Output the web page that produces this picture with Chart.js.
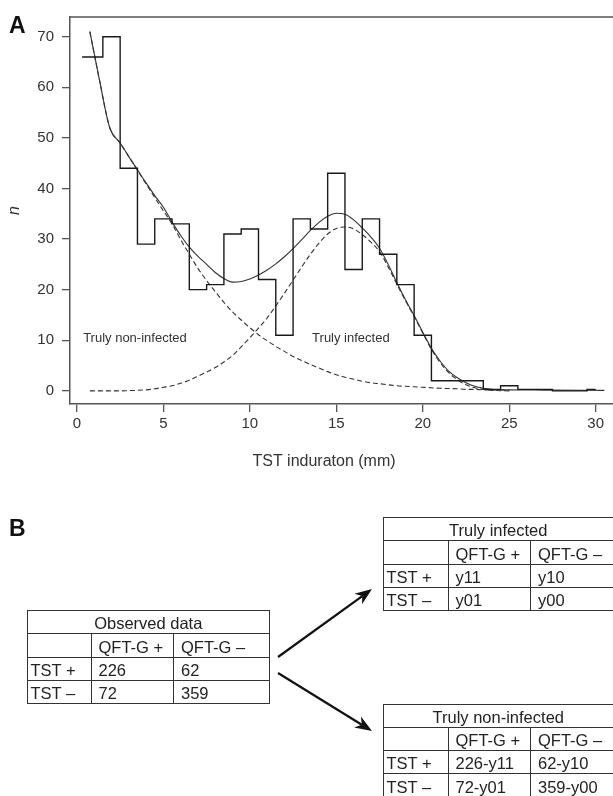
<!DOCTYPE html>
<html>
<head>
<meta charset="utf-8">
<script src="https://cdn.jsdelivr.net/npm/chart.js@4"></script>
<style>
  body { margin: 0; background: #fff; font-family: "Liberation Sans", Arial, sans-serif; color: #222; }
  #page { position: relative; width: 613px; height: 796px; overflow: hidden; }
  #plot { position: absolute; left: 0; top: 0; }
  .tag { position: absolute; font-weight: bold; font-size: 23px; line-height: 23px; color: #111; }
  table.tt { position: absolute; border-collapse: collapse; table-layout: fixed; font-size: 16.5px; }
  table.tt td { border: 1px solid #333; padding: 0 0 0 7px; white-space: nowrap; overflow: hidden;
                vertical-align: bottom; line-height: 19px; }
  table.tt tr { height: 23.3px; }
  table.tt td.head { text-align: center; padding-left: 0; }
  table.tt td.first { padding-left: 3px; }
  #arrows { position: absolute; left: 0; top: 0; }
</style>
</head>
<body>
<div id="page">
  <canvas id="plot" width="613" height="480"></canvas>
  <div class="tag" style="left:9px; top:14px;">A</div>
  <div class="tag" style="left:9px; top:517px;">B</div>
  <svg id="arrows" width="613" height="796"></svg>
</div>
<script>
// panel A data
const xTicks = [0, 5, 10, 15, 20, 25, 30];
const yTicks = [0, 10, 20, 30, 40, 50, 60, 70];

// histogram: left bin edges (last value = right end) and counts
const histEdges = [0.3, 1.5, 2.5, 3.5, 4.5, 5.5, 6.5, 7.5, 8.5, 9.5, 10.5, 11.5, 12.5, 13.5, 14.5,
                   15.5, 16.5, 17.5, 18.5, 19.5, 20.5, 23.5, 24.5, 25.5, 27.5, 29.5, 30];
const histCounts = [66, 70, 44, 29, 34, 33, 20, 21, 31, 32, 22, 11, 34, 32, 43,
                    24, 34, 27, 21, 11, 2, 0.3, 1, 0.3, 0, 0.3];

// fitted mixture curves
const fitX = [0.75, 1.3, 1.9, 2.5, 3, 3.5, 4, 4.5, 5, 5.5, 6, 6.5, 7, 7.5, 8, 8.5, 9, 9.5, 10, 10.5,
              11, 11.5, 12, 12.5, 13, 13.5, 14, 14.5, 15, 15.5, 16, 16.5, 17, 17.5, 18, 18.5, 19, 19.5,
              20, 20.5, 21, 21.5, 22, 22.5, 23, 23.5, 24, 25, 27, 30.5];
const fitTotal = [71, 61.5, 52, 49, 46.3, 43.7, 41.1, 38.6, 36.3, 33.4, 30.7, 28.4, 26.6, 25.0, 23.4, 22.2, 21.5, 21.6, 22.1, 22.9,
                  23.9, 25.1, 26.5, 28.1, 29.9, 31.7, 33.3, 34.5, 35.1, 34.9, 33.8, 32.2, 30.4, 28.2, 25.0, 21.4, 18.0, 14.9,
                  11.6, 8.4, 5.9, 3.9, 2.6, 1.6, 0.9, 0.5, 0.3, 0.2, 0.15, 0.1];
const fitInfected = [0, 0, 0, 0, 0.05, 0.1, 0.2, 0.4, 0.7, 1.0, 1.5, 2.1, 2.9, 3.7, 4.6, 5.7, 7.0, 8.7, 10.5, 12.4,
                     14.4, 16.8, 19.3, 21.9, 24.5, 27.0, 29.2, 31.0, 32.1, 32.4, 32.0, 30.9, 29.4, 27.5, 24.5, 21.1, 17.8, 14.7,
                     11.4, 8.2, 5.6, 3.6, 2.2, 1.2, 0.6, 0.3, 0.1, 0, null, null];
const fitNonInfected = [71, 61.5, 52, 49, 46.3, 43.6, 40.9, 38.2, 35.6, 33.0, 29.9, 27.0, 24.2, 21.8, 19.6, 17.5, 15.6, 14.0, 12.5, 11.1,
                        9.9, 8.8, 7.8, 6.8, 6.0, 5.2, 4.5, 3.8, 3.2, 2.7, 2.3, 1.9, 1.6, 1.4, 1.2, 1.0, 0.9, 0.8,
                        0.7, 0.6, 0.5, 0.45, 0.4, 0.3, 0.3, 0.2, 0.2, 0.1, null, null];

const noteText = ['Truly non-infected', 'Truly infected'];
const noteX = [0.36, 13.6];
const noteY = [10.3, 10.3];
const xTitle = 'TST induraton (mm)';
const yTitle = 'n';

// panel B data
const rowNames = ['TST +', 'TST \u2013'];
const colNames = ['QFT-G +', 'QFT-G \u2013'];
const observed = [['226', '62'], ['72', '359']];
const infected = [['y11', 'y10'], ['y01', 'y00']];
const nonInfected = [['226-y11', '62-y10'], ['72-y01', '359-y00']];

const FONT = '"Liberation Sans", Arial, sans-serif';

function pts(xs, ys) {
    return xs.map((x, i) => ({ x: x, y: ys[i] }));
}

const histData = histEdges.map((x, i) => ({ x: x, y: histCounts[Math.min(i, histCounts.length - 1)] }));

const extras = {
    id: 'extras',
    afterDatasetsDraw(chart) {
        const { ctx, chartArea, scales } = chart;
        ctx.save();
        ctx.strokeStyle = '#555';
        ctx.lineWidth = 1.5;
        ctx.beginPath();
        ctx.moveTo(chartArea.left, chartArea.top);
        ctx.lineTo(chartArea.right, chartArea.top);
        ctx.stroke();

        ctx.fillStyle = '#333';
        ctx.font = '13px ' + FONT;
        ctx.textAlign = 'left';
        ctx.textBaseline = 'middle';
        noteText.forEach((t, i) => {
            ctx.fillText(t, scales.x.getPixelForValue(noteX[i]), scales.y.getPixelForValue(noteY[i]));
        });

        ctx.font = '16px ' + FONT;
        ctx.textAlign = 'center';
        ctx.fillText(xTitle, 324, chartArea.bottom + 58);
        ctx.restore();
    }
};

new Chart(document.getElementById('plot'), {
    type: 'line',
    data: {
        datasets: [
            { data: histData, stepped: 'before', borderColor: '#1a1a1a', borderWidth: 1.4 },
            { data: pts(fitX, fitTotal), borderColor: '#333', borderWidth: 1.1, cubicInterpolationMode: 'monotone' },
            { data: pts(fitX, fitInfected), borderColor: '#333', borderWidth: 1.1, borderDash: [5, 3], cubicInterpolationMode: 'monotone' },
            { data: pts(fitX, fitNonInfected), borderColor: '#333', borderWidth: 1.1, borderDash: [5, 3], cubicInterpolationMode: 'monotone' }
        ]
    },
    options: {
        responsive: false,
        animation: false,
        events: [],
        elements: { point: { radius: 0 } },
        layout: { padding: { top: 15, left: 0, right: 0, bottom: 0 } },
        plugins: { legend: { display: false }, tooltip: { enabled: false } },
        scales: {
            x: {
                type: 'linear',
                min: -0.4,
                max: 31,
                afterBuildTicks: s => { s.ticks = xTicks.map(v => ({ value: v })); },
                afterFit: s => { s.height = 76; },
                grid: { drawOnChartArea: false, drawTicks: true, tickLength: 8, color: '#555', lineWidth: 1.3 },
                border: { display: true, color: '#555', width: 1.5 },
                ticks: { font: { size: 15, family: FONT }, color: '#333', padding: 3, maxRotation: 0 }
            },
            y: {
                min: -2.6,
                max: 73.9,
                afterBuildTicks: s => { s.ticks = yTicks.map(v => ({ value: v })); },
                afterFit: s => { s.width = 70; },
                grid: { drawOnChartArea: false, drawTicks: true, tickLength: 8, color: '#555', lineWidth: 1.3 },
                border: { display: true, color: '#555', width: 1.5 },
                ticks: { font: { size: 15, family: FONT }, color: '#333', padding: 8 },
                title: { display: true, text: yTitle, color: '#333',
                         font: { size: 16, style: 'italic', family: FONT }, padding: { top: 5, bottom: 0 } }
            }
        }
    },
    plugins: [extras]
});

// panel B tables
function makeTable(title, cells, left, top, widths) {
    const t = document.createElement('table');
    t.className = 'tt';
    t.style.left = left + 'px';
    t.style.top = top + 'px';
    t.style.width = widths.reduce((a, b) => a + b, 0) + 'px';
    const cg = document.createElement('colgroup');
    widths.forEach(w => { const c = document.createElement('col'); c.style.width = w + 'px'; cg.appendChild(c); });
    t.appendChild(cg);
    let html = `<tr><td class="head" colspan="3">${title}</td></tr>`;
    html += `<tr><td class="first"></td><td>${colNames[0]}</td><td>${colNames[1]}</td></tr>`;
    rowNames.forEach((r, i) => {
        html += `<tr><td class="first">${r}</td><td>${cells[i][0]}</td><td>${cells[i][1]}</td></tr>`;
    });
    t.insertAdjacentHTML('beforeend', html);
    document.getElementById('page').appendChild(t);
}

makeTable('Observed data', observed, 26.5, 610, [64, 82.5, 96]);
makeTable('Truly infected', infected, 382.5, 517, [65, 82.5, 83]);
makeTable('Truly non-infected', nonInfected, 382.5, 703.5, [65, 82.5, 83]);

// arrows between the tables
const arrows = [
    { from: [278, 657], to: [372, 589] },
    { from: [278, 673], to: [372, 731] }
];
const svg = document.getElementById('arrows');
arrows.forEach(a => {
    const dx = a.to[0] - a.from[0], dy = a.to[1] - a.from[1];
    const len = Math.hypot(dx, dy);
    const ux = dx / len, uy = dy / len, nx = -uy, ny = ux;
    const L = 17, W = 6.5, N = 5;
    const bx = a.to[0] - ux * L, by = a.to[1] - uy * L;
    const ex = a.to[0] - ux * (L - N), ey = a.to[1] - uy * (L - N);
    svg.insertAdjacentHTML('beforeend',
        `<line x1="${a.from[0]}" y1="${a.from[1]}" x2="${ex}" y2="${ey}" stroke="#111" stroke-width="2.2"/>` +
        `<polygon fill="#111" points="${a.to[0]},${a.to[1]} ${bx + nx * W},${by + ny * W} ${ex},${ey} ${bx - nx * W},${by - ny * W}"/>`);
});
</script>
</body>
</html>
